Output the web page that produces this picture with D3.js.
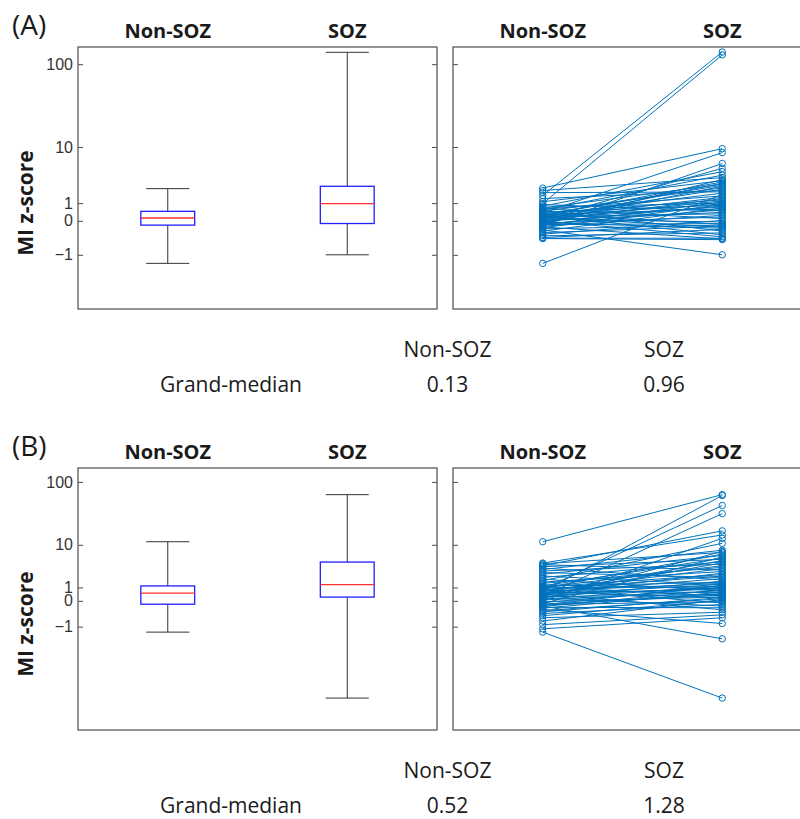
<!DOCTYPE html>
<html lang="en">
<head>
<meta charset="UTF-8">
<script src="https://d3js.org/d3.v7.min.js"></script>
<style>
  body { margin: 0; background: #fff; }
  text { fill: #1a1a1a; }
  .head { font-family: "Open Sans", sans-serif; font-weight: 700; font-size: 20px; }
  .ylab { font-family: "Open Sans", sans-serif; font-weight: 700; font-size: 21px; }
  .tick text { font-family: "Liberation Sans", Arial, sans-serif; font-size: 16px; fill: #333; }
  .table { font-family: "Open Sans", sans-serif; font-size: 21px; }
</style>
<title>MI z-score</title>
</head>
<body>
<div class="canvas"></div>
<script>
// data
const groups = ['Non-SOZ', 'SOZ']
const panelLabels = ['(A)', '(B)']
const yTicks = [-1, 0, 1, 10, 100]
const OFFSET = 1.7   // axis is log10(z + 1.7)

const yLimA = [-1.53, 157.6]
const yLimB = [-1.68, 162.5]

// [lower whisker, q1, median, q3, upper whisker]
const boxNonSozA = [-1.14, -0.18, 0.13, 0.48, 2.24]
const boxSozA = [-1.0, -0.115, 0.96, 2.49, 137]
const boxNonSozB = [-1.12, -0.185, 0.52, 1.14, 11.3]
const boxSozB = [-1.64, 0.235, 1.28, 4.76, 63.9]

const grandMedianA = [0.13, 0.96]
const grandMedianB = [0.52, 1.28]

// paired recordings (same index = same channel)
const pairNonSozA = [2.30, 2.05, 1.85, 1.60, 1.34, 1.10, 0.97, 0.90, 0.80, 0.72, 0.68, 0.64, 0.60, 0.56, 0.52,
  0.48, 0.43, 0.40, 0.37, 0.34, 0.32, 0.30, 0.28, 0.26, 0.24, 0.22, 0.20, 0.18, 0.16, 0.14,
  0.12, 0.10, 0.08, 0.06, 0.04, 0.02, 0.00, -0.02, -0.04, -0.06, -0.08, -0.10, -0.12, -0.14, -0.16,
  -0.18, -0.20, -0.22, -0.25, -0.28, -0.32, -0.36, -0.40, -0.45, -0.50, -0.55, -0.60, -0.62, -0.63, -1.14]
const pairSozA = [9.5, 3.55, 1.92, 138, 2.05, 3.15, 128, 0.50, 4.44, 1.00, 2.72, 0.10, 1.56, 3.90, -0.40,
  2.32, 0.86, 8.4, 1.24, -0.15, 2.60, 0.62, 1.80, -0.52, 3.00, 0.94, 0.34, 2.18, -0.26, 1.44,
  0.74, 5.0, -0.05, 1.16, 2.85, 0.42, -0.58, 1.34, 0.80, 2.49, -0.30, 0.18, 3.30, 0.56, -0.12,
  1.08, 5.9, 0.26, -0.64, 0.90, -0.18, -1.00, 0.68, -0.22, 0.02, -0.46, -0.34, -0.62, -0.66, 1.68]

const pairNonSozB = [11.3, 4.55, 4.40, 4.20, 4.00, 3.80, 3.55, 3.30, 3.05, 2.80, 2.55, 2.30, 2.10, 1.90, 1.70,
  1.55, 1.40, 1.25, 1.14, 1.11, 1.08, 1.04, 1.00, 0.96, 0.92, 0.88, 0.84, 0.80, 0.76, 0.72,
  0.68, 0.64, 0.60, 0.56, 0.53, 0.51, 0.49, 0.46, 0.42, 0.38, 0.34, 0.30, 0.26, 0.22, 0.18,
  0.14, 0.10, 0.05, 0.00, -0.05, -0.10, -0.15, -0.18, -0.20, -0.22, -0.24, -0.27, -0.30, -0.34, -0.38,
  -0.43, -0.48, -0.54, -0.60, -0.68, -0.75, -0.85, -0.95, -1.05, -1.12]
const pairSozB = [64, 14.7, 7.30, 3.20, 17.2, 5.40, 1.80, 8.00, 4.30, 2.10, 6.40, 1.25, 4.80, 0.66, 10.6,
  2.95, 3.70, 0.90, 5.70, 1.52, 0.30, 2.50, 4.00, 1.08, 6.80, -0.12, 43.5, 2.30, 0.54, 3.45,
  1.40, 62, 0.18, 1.95, 5.10, 0.84, 2.70, -0.45, 1.29, 4.60, 0.96, 32.5, 0.42, 1.65, -0.28,
  7.60, 1.14, 0.72, 12.9, 0.24, 1.02, 6.00, 0.36, -0.05, 1.20, 0.48, -1.24, 0.78, -0.36, 0.60,
  -0.92, 0.13, 0.21, -0.20, 0.02, -0.55, 0.08, -0.65, -0.75, -1.64]

const width = 800
const height = 819
const svg = d3.select('.canvas').append('svg')
  .attr('width', width)
  .attr('height', height)

const plotH = 262
const leftX = [78, 437]
const rightX = [453, 812]
const axisColor = '#4d4d4d'
const lineBlue = '#0072BD'

function drawPanel(p) {
  const g = svg.append('g').attr('transform', `translate(0,${p.dy})`)
  const top = 47
  const y = d3.scaleLog()
    .domain(p.yLim.map(v => v + OFFSET))
    .range([top + plotH, top])
  const yv = v => y(v + OFFSET)

  const xL = d3.scaleLinear().domain([0.5, 2.5]).range(leftX)
  const xR = d3.scaleLinear().domain([0.5, 2.5]).range(rightX)

  // panel letter
  g.append('text')
    .attr('x', 12).attr('y', 35)
    .style('font-family', '"Open Sans", sans-serif')
    .style('font-size', '28px')
    .text(p.label)

  // headers
  groups.forEach((name, i) => {
    [xL, xR].forEach(x => {
      g.append('text').attr('class', 'head')
        .attr('x', x(i + 1)).attr('y', 38)
        .attr('text-anchor', 'middle')
        .text(name)
    })
  })

  // y label
  g.append('text').attr('class', 'ylab')
    .attr('transform', `translate(33,${top + 156}) rotate(-90)`)
    .attr('text-anchor', 'middle')
    .text('MI z-score')

  const tv = yTicks.map(t => t + OFFSET)
  const fmt = d => d3.format('d')(Math.round(d - OFFSET))

  // left panel axes, ticks pointing inward like MATLAB
  const ax1 = g.append('g').attr('transform', `translate(${leftX[0]},0)`)
    .call(d3.axisLeft(y).tickValues(tv).tickFormat(fmt).tickSizeInner(-5).tickSizeOuter(0).tickPadding(5))
  const ax2 = g.append('g').attr('transform', `translate(${leftX[1]},0)`)
    .call(d3.axisRight(y).tickValues(tv).tickFormat('').tickSizeInner(-5).tickSizeOuter(0))
  const ax3 = g.append('g').attr('transform', `translate(${rightX[0]},0)`)
    .call(d3.axisLeft(y).tickValues(tv).tickFormat('').tickSizeInner(-5).tickSizeOuter(0))
  ;[ax1, ax2, ax3].forEach(a => {
    a.select('.domain').remove()
    a.selectAll('.tick line').attr('stroke', axisColor)
  })

  ;[leftX, rightX].forEach(xr => {
    g.append('rect')
      .attr('x', xr[0]).attr('y', top)
      .attr('width', xr[1] - xr[0]).attr('height', plotH)
      .attr('fill', 'none')
      .attr('stroke', axisColor)
      .attr('stroke-width', 1.2)
  })

  // box plots
  const boxW = 0.3
  const capW = 0.12
  p.boxes.forEach((b, i) => {
    const c = i + 1
    const [lo, q1, med, q3, hi] = b
    const bx = g.append('g')
    bx.append('line')
      .attr('x1', xL(c)).attr('x2', xL(c))
      .attr('y1', yv(q3)).attr('y2', yv(hi))
      .attr('stroke', '#333')
    bx.append('line')
      .attr('x1', xL(c)).attr('x2', xL(c))
      .attr('y1', yv(q1)).attr('y2', yv(lo))
      .attr('stroke', '#333')
    ;[lo, hi].forEach(v => {
      bx.append('line')
        .attr('x1', xL(c - capW)).attr('x2', xL(c + capW))
        .attr('y1', yv(v)).attr('y2', yv(v))
        .attr('stroke', '#333')
    })
    bx.append('rect')
      .attr('x', xL(c - boxW / 2))
      .attr('y', yv(q3))
      .attr('width', xL(c + boxW / 2) - xL(c - boxW / 2))
      .attr('height', yv(q1) - yv(q3))
      .attr('fill', 'none')
      .attr('stroke', '#1f1fff')
      .attr('stroke-width', 1.3)
    bx.append('line')
      .attr('x1', xL(c - boxW / 2)).attr('x2', xL(c + boxW / 2))
      .attr('y1', yv(med)).attr('y2', yv(med))
      .attr('stroke', '#ff3030')
      .attr('stroke-width', 1.3)
  })

  // paired lines
  const pairs = p.non.map((v, i) => [v, p.soz[i]])
  const pg = g.append('g')
  pg.selectAll('line.pair').data(pairs).enter()
    .append('line')
    .attr('class', 'pair')
    .attr('x1', xR(1)).attr('x2', xR(2))
    .attr('y1', d => yv(d[0])).attr('y2', d => yv(d[1]))
    .attr('stroke', lineBlue)
    .attr('stroke-width', 1)
  pg.selectAll('circle.n').data(p.non).enter()
    .append('circle').attr('class', 'n')
    .attr('cx', xR(1)).attr('cy', d => yv(d)).attr('r', 3.2)
    .attr('fill', 'none').attr('stroke', lineBlue).attr('stroke-width', 1)
  pg.selectAll('circle.s').data(p.soz).enter()
    .append('circle').attr('class', 's')
    .attr('cx', xR(2)).attr('cy', d => yv(d)).attr('r', 3.2)
    .attr('fill', 'none').attr('stroke', lineBlue).attr('stroke-width', 1)

  // grand median table
  const tcol = d => d === 'label' ? 231 : (d === 'Non-SOZ' ? 447.5 : 664)
  groups.forEach(name => {
    g.append('text').attr('class', 'table')
      .attr('x', tcol(name)).attr('y', 357)
      .attr('text-anchor', 'middle')
      .text(name)
  })
  g.append('text').attr('class', 'table')
    .attr('x', tcol('label')).attr('y', 392)
    .attr('text-anchor', 'middle')
    .text('Grand-median')
  p.grand.forEach((v, i) => {
    g.append('text').attr('class', 'table')
      .attr('x', tcol(groups[i])).attr('y', 392)
      .attr('text-anchor', 'middle')
      .text(d3.format('.2f')(v))
  })
}

drawPanel({ dy: 0, label: panelLabels[0], yLim: yLimA, boxes: [boxNonSozA, boxSozA],
  non: pairNonSozA, soz: pairSozA, grand: grandMedianA })
drawPanel({ dy: 421, label: panelLabels[1], yLim: yLimB, boxes: [boxNonSozB, boxSozB],
  non: pairNonSozB, soz: pairSozB, grand: grandMedianB })
</script>
</body>
</html>
